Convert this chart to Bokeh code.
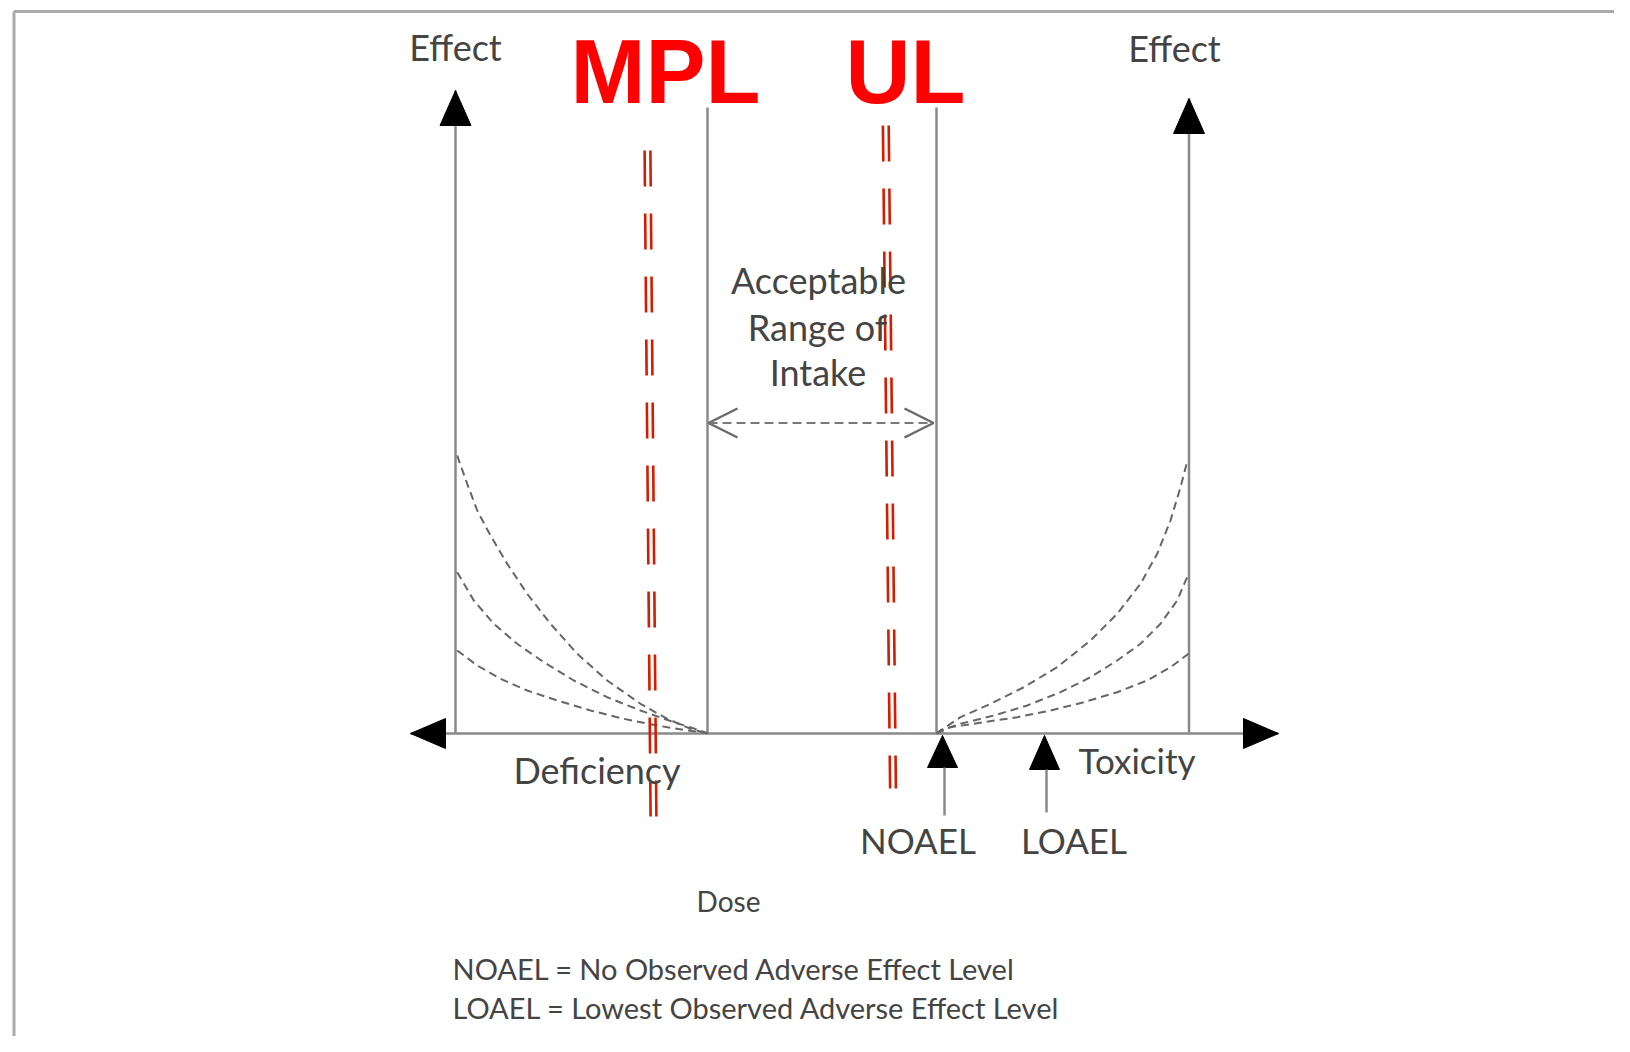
from bokeh.plotting import figure
from bokeh.models import Range1d, Arrow, OpenHead, ColumnDataSource
from bokeh.core.properties import value
from bokeh.embed import file_html
from bokeh.resources import INLINE

# ---------------- values ----------------
# x = dose position, y = effect above the dose axis (dose axis at effect 0)
dose_axis_y = 0
dose_axis_left_tip = 410
dose_axis_right_tip = 1278

effect_axis_x = [455, 1188.5]
effect_axis_tip = [643, 635]

range_bounds_x = [707, 936]          # acceptable range of intake
range_bounds_top = 626
range_arrow_y = 310.5

mpl_line_x = [647, 653]
mpl_line_y = [583, -83]
ul_line_x = [885.3, 892.5]
ul_line_y = [608, -55]

# deficiency curves (left), three severities
def_x1 = [456.7, 466.7, 476.7, 490, 506.7, 526.7, 550, 576.7, 606.7, 640, 666.7, 690, 707]
def_y1 = [278, 249.7, 223, 198, 169.7, 139.7, 109.7, 79.7, 53, 29.7, 14.7, 4.7, 0]
def_x2 = [456.7, 473.3, 493.3, 516.7, 543.3, 573.3, 606.7, 640, 673.3, 700, 707]
def_y2 = [161.3, 133, 109.7, 89.7, 71.3, 53, 36.3, 23, 11.3, 3, 0]
def_x3 = [456.7, 476.7, 500, 526.7, 556.7, 590, 623.3, 656.7, 686.7, 703.3, 707]
def_y3 = [83, 68, 54.7, 43, 33, 23, 14.7, 8, 3, 1.3, 0]

# toxicity curves (right)
tox_x1 = [936, 940, 960, 990, 1023.3, 1056.7, 1090, 1116.7, 1140, 1156.7, 1170, 1180, 1187]
tox_y1 = [0, 3, 16.3, 29.7, 46.3, 66.3, 93, 119.7, 149.7, 179.7, 213, 246.3, 273]
tox_x2 = [936, 940, 960, 993.3, 1026.7, 1060, 1090, 1116.7, 1140, 1160, 1176.7, 1188]
tox_y2 = [0, 3, 9.7, 18, 28, 41.3, 56.3, 73, 89.7, 109.7, 133, 159.7]
tox_x3 = [936, 950, 983.3, 1016.7, 1050, 1083.3, 1116.7, 1146.7, 1170, 1188]
tox_y3 = [0, 6.3, 11.3, 16.3, 23, 31.3, 41.3, 53, 66.3, 79.7]

# NOAEL / LOAEL markers on the dose axis
marker_x = [942, 1044]
marker_tip = [-2, -2]
marker_base = [-34, -36]
marker_stem_end = [-82, -79]

# text labels (baseline positions)
label_text = ["Effect", "Effect", "Acceptable", "Range of", "Intake",
              "Deficiency", "Toxicity", "NOAEL", "LOAEL", "Dose"]
label_x = [455, 1174, 818, 817, 817.5, 596.5, 1136.5, 917.5, 1073.5, 728]
label_y = [673, 672, 440, 393, 348, -50, -39, -119, -119, -178]
label_px = [36, 36, 36, 36, 36, 36, 35, 35, 35, 28]

note_text = ["NOAEL = No Observed Adverse Effect Level",
             "LOAEL = Lowest Observed Adverse Effect Level"]
note_x = [452, 452]
note_y = [-246, -285]
note_px = 29

red_text = ["MPL", "UL"]
red_x = [665, 905]
red_y = [628, 628]
red_px = 90

# frame of the original picture
frame_top_y = 722
frame_left_x = 13.5

# ---------------- drawing ----------------
W, H = 1614, 1036
p = figure(width=W, height=H, x_range=Range1d(0, W), y_range=Range1d(733 - H, 733),
           output_backend="svg", toolbar_location=None, min_border=0,
           x_axis_type=None, y_axis_type=None)
p.grid.visible = False
p.outline_line_color = None
p.background_fill_color = "white"
p.border_fill_color = "white"

GRAY = "#8a8a8a"
TXT = "#444444"
BASE_SHIFT = 0.37   # renderer places the alphabetic baseline this fraction of an em low

# frame
p.segment(x0=[frame_left_x, frame_left_x], y0=[frame_top_y, frame_top_y],
          x1=[W, frame_left_x], y1=[frame_top_y, 733 - H],
          line_color="#aaaaaa", line_width=3)

# dose axis
p.segment(x0=[dose_axis_left_tip], y0=[dose_axis_y], x1=[dose_axis_right_tip], y1=[dose_axis_y],
          line_color=GRAY, line_width=2.5)
# effect axes
p.segment(x0=effect_axis_x, y0=[dose_axis_y] * 2, x1=effect_axis_x, y1=effect_axis_tip,
          line_color=GRAY, line_width=2.5)
# acceptable range bounds
p.segment(x0=range_bounds_x, y0=[dose_axis_y] * 2, x1=range_bounds_x, y1=[range_bounds_top] * 2,
          line_color=GRAY, line_width=2.5)

# black arrow heads
AL, AH = 35, 15
tri_xs = [
    [dose_axis_left_tip, dose_axis_left_tip + AL, dose_axis_left_tip + AL],
    [dose_axis_right_tip, dose_axis_right_tip - AL, dose_axis_right_tip - AL],
]
tri_ys = [
    [dose_axis_y, dose_axis_y + AH, dose_axis_y - AH],
    [dose_axis_y, dose_axis_y + AH, dose_axis_y - AH],
]
for ex, et in zip(effect_axis_x, effect_axis_tip):
    tri_xs.append([ex, ex - 15.5, ex + 15.5])
    tri_ys.append([et, et - AL, et - AL])
for mx, mt, mb in zip(marker_x, marker_tip, marker_base):
    tri_xs.append([mx, mx - AH, mx + AH])
    tri_ys.append([mt, mb, mb])
p.patches(xs=tri_xs, ys=tri_ys, fill_color="black", line_color="black", line_width=1)

# marker stems
p.segment(x0=[x + 2 for x in marker_x], y0=marker_base, x1=[x + 2 for x in marker_x], y1=marker_stem_end,
          line_color=GRAY, line_width=2.5)

# dashed curves
for xs, ys in [(def_x1, def_y1), (def_x2, def_y2), (def_x3, def_y3),
               (tox_x1, tox_y1), (tox_x2, tox_y2), (tox_x3, tox_y3)]:
    p.line(xs, ys, line_color="#666666", line_width=2, line_dash="8 5")

# acceptable range double-headed dashed arrow
p.add_layout(Arrow(x_start=range_bounds_x[0] + 1, y_start=range_arrow_y,
                   x_end=range_bounds_x[1] - 3, y_end=range_arrow_y,
                   line_color="#7a7a7a", line_width=2, line_dash="9 5",
                   start=OpenHead(size=29, line_color="#6a6a6a", line_width=2.5),
                   end=OpenHead(size=29, line_color="#6a6a6a", line_width=2.5)))

# red MPL / UL double dashed lines
RED = "#d41c00"
for lx, ly in [(mpl_line_x, mpl_line_y), (ul_line_x, ul_line_y)]:
    for off in (-2.9, 2.9):
        p.line([x + off for x in lx], ly, line_color=RED, line_width=2.6, line_dash="36 27")

# texts
src = ColumnDataSource(dict(
    t=label_text, x=label_x,
    y=[y + BASE_SHIFT * s for y, s in zip(label_y, label_px)],
    s=["%dpx" % s for s in label_px]))
p.text(x="x", y="y", text="t", source=src, text_font=value("Lato"), text_font_size="s",
       text_color=TXT, text_align="center", text_baseline="alphabetic")
p.text(x=note_x, y=[y + BASE_SHIFT * note_px for y in note_y], text=note_text,
       text_font=value("Lato"), text_font_size=value("%dpx" % note_px),
       text_color=TXT, text_align="left", text_baseline="alphabetic")
p.text(x=red_x, y=[y + BASE_SHIFT * red_px for y in red_y], text=red_text,
       text_font=value("Liberation Sans"),
       text_font_size=value("%dpx" % red_px), text_font_style="bold",
       text_color="#ff0000", text_align="center", text_baseline="alphabetic")

open("out.html", "w").write(file_html(p, INLINE))
